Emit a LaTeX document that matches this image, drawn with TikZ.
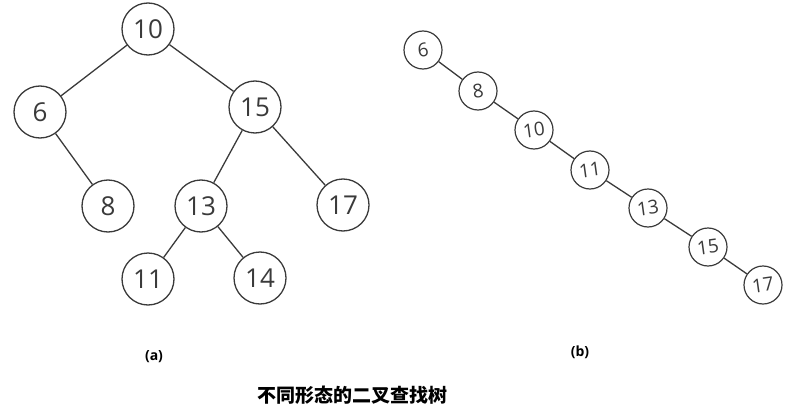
\documentclass[tikz,border=0pt]{standalone}
\usepackage{fontspec}
\setmainfont{Open Sans}
\newfontfamily\cjk{Noto Sans CJK SC}
\definecolor{ink}{HTML}{3A3A3A}
\begin{document}
\begin{tikzpicture}[x=1pt,y=-1pt,
  big/.style={circle,draw=ink,line width=1.3pt,minimum size=52pt,inner sep=0pt,text=ink,font=\fontsize{26}{26}\selectfont},
  small/.style={circle,draw=ink,line width=1.2pt,minimum size=38pt,inner sep=0pt,text=ink,font=\fontsize{19}{19}\selectfont},
  edge/.style={draw=ink,line width=1.3pt},
  tag/.style={font=\bfseries\fontsize{14}{14}\selectfont,text=black}]
\useasboundingbox (0,0) rectangle (794,409);
% (a) balanced tree
\node[big] (a10) at (148,29) {10};
\node[big] (a6) at (40,112) {6};
\node[big] (a15) at (255,107) {15};
\node[big] (a8) at (108,206) {8};
\node[big] (a13) at (201,206) {13};
\node[big] (a17) at (343,205) {17};
\node[big] (a11) at (148,279) {11};
\node[big] (a14) at (260,278) {14};
\draw[edge] (a10)--(a6); \draw[edge] (a10)--(a15);
\draw[edge] (a6)--(a8);
\draw[edge] (a15)--(a13); \draw[edge] (a15)--(a17);
\draw[edge] (a13)--(a11); \draw[edge] (a13)--(a14);
% (b) degenerate tree
\node[small] (b6) at (423,50) {\rotatebox{8}{6}};
\node[small] (b8) at (478,91) {\rotatebox{8}{8}};
\node[small] (b10) at (534,130) {\rotatebox{8}{10}};
\node[small] (b11) at (590,170) {\rotatebox{8}{11}};
\node[small] (b13) at (648,208) {\rotatebox{8}{13}};
\node[small] (b15) at (708,247) {\rotatebox{8}{15}};
\node[small] (b17) at (763,285) {\rotatebox{8}{17}};
\draw[edge] (b6)--(b8); \draw[edge] (b8)--(b10);
\draw[edge] (b10)--(b11); \draw[edge] (b11)--(b13);
\draw[edge] (b13)--(b15); \draw[edge] (b15)--(b17);
% captions
\node[tag] (la) at (154,357) {(a)};
\node[tag] (lb) at (580,352) {(b)};
\node[font=\cjk\bfseries\fontsize{19}{19}\selectfont] (title) at (352,395) {不同形态的二叉查找树};
\end{tikzpicture}
\end{document}
